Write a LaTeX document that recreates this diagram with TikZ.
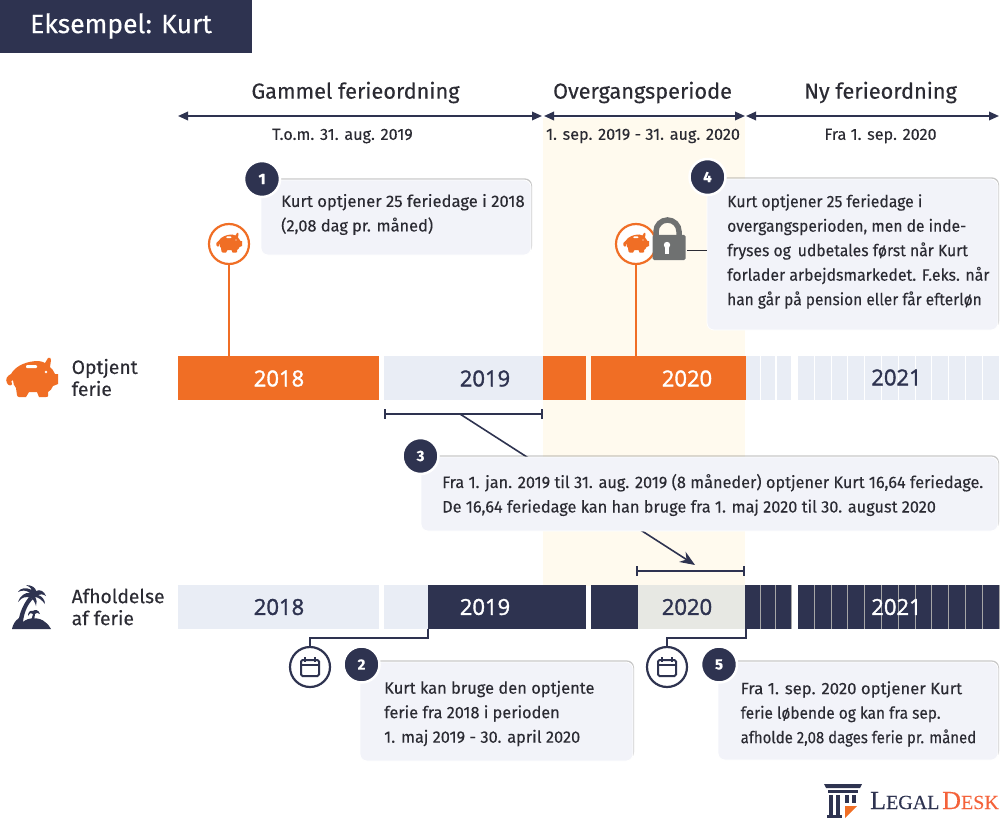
\documentclass[tikz,border=0pt]{standalone}
\usepackage{fontspec}
\usepackage{graphicx}
\usetikzlibrary{arrows.meta,shadows}
\setmainfont{Fira Sans}
\newfontfamily\bodyf[FakeStretch=0.93,FakeBold=0.15]{Fira Sans}
\newfontfamily\headf[FakeBold=0.35]{Fira Sans}
\newfontfamily\subf[FakeBold=0.12]{Fira Sans}
\newfontfamily\yearf[FakeBold=1.6]{Open Sans}
\newfontfamily\logof[FakeBold=0.25]{Liberation Serif}
\newcommand{\sx}[2]{\scalebox{#1}[1]{#2}}
\definecolor{navy}{HTML}{2E3350}
\definecolor{orng}{HTML}{F06E25}
\definecolor{pale}{HTML}{E9EDF5}
\definecolor{band}{HTML}{FFFAEE}
\definecolor{boxf}{HTML}{F2F3F9}
\definecolor{txt}{HTML}{2B2B33}
\definecolor{lockc}{HTML}{6F7171}
\definecolor{grayc}{HTML}{E7E8E3}
\definecolor{logor}{HTML}{F4623A}
\tikzset{
  x=1pt,y=-1pt,
  seg/.style={draw=none,inner sep=0pt,outer sep=0pt},
  yearlab/.style={font=\yearf\fontsize{22}{22}\selectfont,inner sep=0pt},
  calloutbox/.style={rectangle,rounded corners=7pt,fill=boxf,draw=white,line width=.8pt,
     drop shadow={shadow xshift=1pt,shadow yshift=1.6pt,fill=black,opacity=.22},inner sep=0pt,outer sep=0pt},
  calltext/.style={font=\bodyf\fontsize{16.6}{24.5}\selectfont,text=txt,align=left,anchor=west,inner sep=0pt},
  numdot/.style={circle,fill=navy,draw=white,line width=2.5pt,minimum size=36pt,inner sep=0pt,
     text=white,font=\headf\fontsize{15}{15}\selectfont\bfseries},
  headlab/.style={font=\headf\fontsize{21.7}{21.7}\selectfont,text=txt,inner sep=0pt},
  sublab/.style={font=\subf\fontsize{16.2}{16.2}\selectfont,text=txt,inner sep=0pt},
  rowlab/.style={font=\headf\fontsize{19.3}{22}\selectfont,text=txt,align=left,anchor=west,inner sep=0pt},
  span/.style={draw=navy,line width=1.8pt,{Triangle[length=10pt,width=8.5pt]}-{Triangle[length=10pt,width=8.5pt]}},
  iconring/.style={circle,draw=#1,fill=white,line width=2.2pt,minimum size=40pt,inner sep=0pt,outer sep=0pt},
  pics/pig/.style={code={
    \fill[#1] (-25,5) .. controls (-27,1) and (-25,-2) .. (-21,-4)
      .. controls (-16,-13) and (-4,-17) .. (6,-17)
      .. controls (9,-17) and (11,-16) .. (13,-15)
      -- (16,-20) .. controls (18,-21) and (19,-20) .. (19,-18) -- (18,-11)
      .. controls (20,-9) and (22,-7) .. (23,-4)
      -- (26,-4) -- (26,6) -- (21,8)
      .. controls (20,11) and (18,13) .. (16,14) -- (16,18) .. controls (16,19) and (15,19) .. (14,19)
      -- (7,19) -- (5,14) -- (-3,14) -- (-6,19) -- (-13,19) .. controls (-14,19) and (-15,18) .. (-15,17)
      -- (-16,10) .. controls (-18,8) and (-19,5) .. (-19,2)
      .. controls (-21,2) and (-21,4) .. (-20,6)
      .. controls (-20,8) and (-24,8) .. (-25,5) -- cycle;
    \fill[white,rounded corners=1pt] (-6,-13) rectangle (5,-10);
    \fill[white] (14,-6) circle (1.4);
  }},
  pics/cal/.style={code={
    \draw[navy,line width=2pt,rounded corners=1.5pt] (-9,-7) rectangle (9,9);
    \draw[navy,line width=2pt] (-9,-2) -- (9,-2);
    \draw[navy,line width=2pt] (-5,-10) -- (-5,-5) (5,-10) -- (5,-5);
  }},
}
\newcommand{\cellrow}[6]{% x0, n, cell width, y, colour, separator
  \foreach \ii in {1,...,#2}{
    \fill[#5] ({#1+(\ii-1)*#3},#4) rectangle ({#1+\ii*#3-1.1},#4+44);
    \fill[#6] ({#1+\ii*#3-1.1},#4) rectangle ({#1+\ii*#3},#4+44);
  }}
\begin{document}
\begin{tikzpicture}
\useasboundingbox (0,0) rectangle (1000,834);
% band
\fill[band] (543,118) rectangle (745,586);
% title
\node[seg,fill=navy,minimum width=252pt,minimum height=53pt,anchor=north west] (title) at (0,0) {};
\node[font=\headf\fontsize{26.5}{26.5}\selectfont,text=white,inner sep=0pt,anchor=west] (titletxt) at (30,26) {Eksempel: Kurt};
% period headings
\coordinate (a0) at (178,116); \coordinate (a1) at (542,116);
\coordinate (a2) at (544,116); \coordinate (a3) at (745,116);
\coordinate (a4) at (746,116); \coordinate (a5) at (999,116);
\draw[span] (a0) -- (a1);
\draw[span] (a2) -- (a3);
\draw[span] (a4) -- (a5);
\node[headlab] (h1) at (355.5,92.5) {Gammel ferieordning};
\node[headlab] (h2) at (642.5,92.5) {Overgangsperiode};
\node[headlab] (h3) at (880.5,92.5) {Ny ferieordning};
\node[sublab] (s1) at (342.5,136) {T.o.m. 31. aug. 2019};
\node[sublab] (s2) at (643,136) {1. sep. 2019 - 31. aug. 2020};
\node[sublab] (s3) at (880.5,136) {Fra 1. sep. 2020};
% row 1
\fill[orng] (178,356) rectangle (379,400);
\fill[pale] (384,356) rectangle (543,400);
\fill[orng] (543,356) rectangle (586,400);
\fill[orng] (591,356) rectangle (745.5,400);
\cellrow{745.5}{3}{15.5}{356}{pale}{white}
\cellrow{798}{12}{16.8}{356}{pale}{white}
\node[yearlab,text=white] (y18) at (279,378.5) {2018};
\node[yearlab,text=navy] (y19) at (485,378.5) {2019};
\node[yearlab,text=white] (y20) at (687,378.5) {2020};
\node[yearlab,text=navy] (y21) at (896.5,377.5) {2021};
% row 2
\fill[pale] (178,585) rectangle (379,629);
\fill[pale] (384,585) rectangle (428,629);
\fill[navy] (428,585) rectangle (586,629);
\fill[navy] (591,585) rectangle (638,629);
\fill[grayc] (638,585) rectangle (745,629);
\cellrow{745}{3}{15.7}{585}{navy}{gray!70}
\cellrow{798}{12}{16.8}{585}{navy}{gray!70}
\node[yearlab,text=navy] (z18) at (279,607) {2018};
\node[yearlab,text=white] (z19) at (485,607) {2019};
\node[yearlab,text=navy] (z20) at (687,607) {2020};
\node[yearlab,text=white] (z21) at (896.5,607) {2021};
% row labels
\node[rowlab] (r1) at (71.5,377.5) {Optjent\\ferie};
\node[rowlab] (r2) at (71.5,607) {Afholdelse\\af ferie};
\pic at (32,378) {pig=orng};
% palm
\begin{scope}[navy]
\fill (12,629) .. controls (13,624) and (15,621) .. (19,618)
  .. controls (21,609) and (25,602) .. (29,597) -- (33,599)
  .. controls (28,604) and (24,612) .. (23,622)
  .. controls (28,617) and (40,617) .. (45,622)
  .. controls (48,624) and (50,627) .. (51,629) -- cycle;
\fill (31,598) .. controls (26,596) and (22,597) .. (18,602) .. controls (20,596) and (25,592) .. (30,593)
  .. controls (26,590) and (22,590) .. (18,592) .. controls (20,588) and (26,587) .. (32,590)
  .. controls (30,587) and (28,586) .. (26,585) .. controls (32,585) and (36,588) .. (36,591)
  .. controls (40,589) and (44,591) .. (46,596) .. controls (43,594) and (40,594) .. (38,595)
  .. controls (42,596) and (45,600) .. (45,604) .. controls (42,600) and (38,597) .. (35,597)
  .. controls (37,600) and (37,603) .. (36,606) .. controls (35,602) and (33,599) .. (31,598) -- cycle;
\fill (31,621) -- (33,614) .. controls (31,612) and (30,613) .. (28,616)
  .. controls (28,612) and (30,610) .. (33,611) .. controls (35,609) and (39,610) .. (40,614)
  .. controls (38,612) and (36,613) .. (35,614) -- (34,621) -- cycle;
\end{scope}
% connector 1 and icons row 1
\node[iconring=orng] (p1) at (229,244) {};
\coordinate (p1b) at (229,356);
\draw[orng,line width=1.5pt] (p1.south) -- (p1b);
\pic[scale=.5] at (229,243) {pig=orng};
\node[iconring=orng] (p2) at (636,244) {};
\coordinate (p2b) at (636,356);
\draw[orng,line width=1.5pt] (p2.south) -- (p2b);
\pic[scale=.5] at (636,243) {pig=orng};
% lock
\draw[lockc,line width=5.5pt] (656,238) -- (656,231.5) arc (180:360:11.5) -- (679,238);
\fill[lockc,rounded corners=1.5pt] (652.5,235) rectangle (685.5,260);
\fill[white] (667,245) circle (3.2);
\fill[white] (665.2,246) rectangle (668.8,254);
% brackets and long arrow
\draw[navy,line width=1.8pt] (385,409) -- (385,419) (385,414) -- (542,414) (542,409) -- (542,419);
\draw[navy,line width=1.8pt] (637,566) -- (637,576) (637,571) -- (744,571) (744,566) -- (744,576);
\coordinate (brA) at (460,414);
\coordinate (brB) at (695,565);
\draw[navy,line width=1.6pt,-{Stealth[length=15pt,width=12pt]}] (brA) -- (brB);
% callouts
\node[calloutbox,minimum width=270pt,minimum height=75pt,anchor=north west] (c1) at (261,180) {};
\node[calltext] (t1) at (281,214.5) {\sx{1.075}{Kurt optjener 25 feriedage i 2018}\\\sx{1.06}{(2,08 dag pr. måned)}};
\node[numdot] (n1) at (262,179) {1};
\node[calloutbox,minimum width=291pt,minimum height=151pt,anchor=north west] (c4) at (707,179) {};
\node[calltext] (t4) at (727,251.5) {\sx{1.02}{Kurt optjener 25 feriedage i}\\\sx{1.013}{overgangsperioden, men de inde-}\\\sx{1.017}{fryses og\, udbetales først når Kurt}\\\sx{1.027}{forlader arbejdsmarkedet. F.eks. når}\\\sx{1.004}{han går på pension eller får efterløn}};
\node[numdot] (n4) at (707.5,177) {4};
\draw[txt,line width=1pt] (687,250) -- (c4.west |- 0,250);
\node[calloutbox,minimum width=577pt,minimum height=74pt,anchor=north west] (c3) at (421,457) {};
\node[calltext] (t3) at (442,495) {\sx{1.055}{Fra 1. jan. 2019 til 31. aug. 2019 (8 måneder) optjener Kurt 16,64 feriedage.}\\\sx{1.055}{De 16,64 feriedage kan han bruge fra 1. maj 2020 til 30. august 2020}};
\node[numdot] (n3) at (420.5,456) {3};
\node[calloutbox,minimum width=273pt,minimum height=99pt,anchor=north west] (c2) at (360,662) {};
\node[calltext] (t2) at (384,713.5) {\sx{1.066}{Kurt kan bruge den optjente}\\\sx{1.054}{ferie fra 2018 i perioden}\\\sx{1.06}{1. maj 2019 - 30. april 2020}};
\node[numdot] (n2) at (361.5,664.5) {2};
\node[calloutbox,minimum width=280pt,minimum height=98pt,anchor=north west] (c5) at (718,662) {};
\node[calltext] (t5) at (740.5,714) {\sx{1.083}{Fra 1. sep. 2020 optjener Kurt}\\\sx{1.0}{ferie løbende og kan fra sep.}\\\sx{.97}{afholde 2,08 dages ferie pr. måned}};
\node[numdot] (n5) at (719,664.5) {5};
% calendars
\node[iconring=navy] (k1) at (310,667) {};
\draw[navy,line width=1.6pt] (k1.north) -- (310,638) -- (428,638) -- (428,629);
\pic at (310,667) {cal};
\node[iconring=navy] (k2) at (667,667) {};
\draw[navy,line width=1.6pt] (k2.north) -- (667,638) -- (746,638) -- (746,629);
\pic at (667,667) {cal};
% logo
\begin{scope}
\fill[navy] (824,784) -- (862,784) -- (860,788) -- (826,788) -- cycle;
\fill[navy] (828,790) rectangle (858,793);
\fill[navy] (829,795) rectangle (833,815);
\fill[navy] (836,795) rectangle (840,815);
\fill[navy] (845,795) rectangle (849,803);
\fill[navy] (852,795) rectangle (856,803);
\fill[navy] (827,815) rectangle (842,818);
\fill[orng] (845,806) -- (857,806) -- (845,818) -- cycle;
\end{scope}
\node[font=\logof,text=navy,inner sep=0pt,anchor=base west] (lg1) at (870,809) {\fontsize{26}{26}\selectfont L\fontsize{20}{20}\selectfont EGAL};
\node[font=\logof,text=logor,inner sep=0pt,anchor=base east] (lg2) at (999,809) {\fontsize{26}{26}\selectfont D\fontsize{20}{20}\selectfont ESK};
\end{tikzpicture}
\end{document}
